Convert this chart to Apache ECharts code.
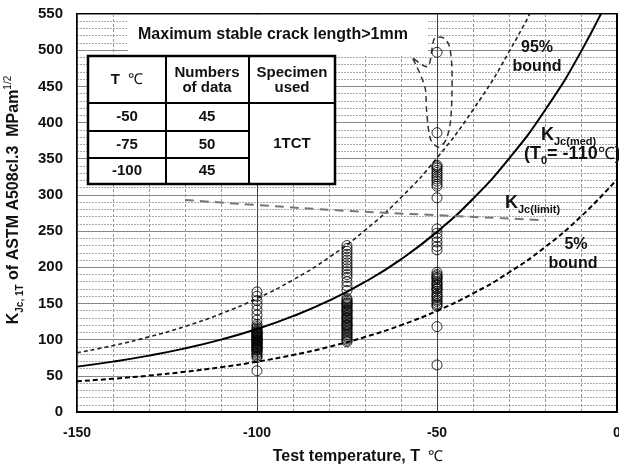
<!DOCTYPE html>
<html>
<head>
<meta charset="utf-8">
<script src="https://cdn.jsdelivr.net/npm/echarts@6/dist/echarts.min.js"></script>
<style>
html, body {margin: 0; padding: 0; background: #fff;}
#main {width: 619px; height: 469px;}
</style>
</head>
<body>
<div id="main"></div>
<script>
// temperatures (degC) where the curves were read
var curveTemps = [-150, -140, -130, -120, -110, -100, -90, -80, -70, -60, -50, -40, -30, -20, -10, 0];
// K_Jc(med), T0 = -110 degC
var medValues = [62.7, 69.6, 77.9, 87.9, 100, 114.6, 132.4, 153.8, 179.7, 211, 248.9, 294.7, 350.1, 417, 498, 596];
// 95% and 5% bounds
var upperValues = [81.8, 91.8, 103.8, 118.2, 135.8, 157, 182.6, 213.6, 251.1, 296.4, 351.2, 417.5, 497.6, 594.6, 711.8, 853.5];
var lowerValues = [42.4, 46, 50.3, 55.5, 61.9, 69.5, 78.8, 90, 103.6, 120, 139.8, 163.8, 192.8, 227.8, 270.2, 321.5];
// K_Jc(limit)
var limitTemps = [-120, -100, -75, -50, -20];
var limitValues = [293, 286, 278, 272, 265];

// measured K_Jc,1T (MPa m^1/2)
var kjcAt100 = [166, 160, 154, 148, 141, 134, 127, 121, 118, 116, 114, 112, 111, 110, 109, 108, 107, 106, 105, 104,
    103, 102, 101, 100, 99, 98, 97, 96, 95, 94, 93, 92, 91, 90, 89, 88, 87, 86, 85, 83, 81, 79, 77, 75, 57];
var kjcAt75 = [230, 226, 222, 218, 214, 210, 206, 202, 198, 194, 190, 186, 180, 174, 168,
    157, 155, 153, 151, 149, 147, 145, 143, 141, 139, 137, 135, 133, 131, 129, 127, 125, 123, 121, 119,
    117, 115, 113, 111, 109, 107, 105, 103, 101, 99, 97, 150, 140, 130, 120];
var kjcAt50 = [497, 386, 341, 339, 337, 334, 331, 328, 325, 322, 319, 315, 312, 296, 253, 247, 241, 235, 229, 224,
    193, 190, 188, 185, 183, 180, 178, 175, 172, 170, 167, 164, 161, 158, 155, 153, 150, 148, 146, 160, 176, 186, 118, 65, 170];

// dashed callout round the large stable-crack specimens
var loopTemps = [-60.6, -52.8, -50.6, -48.8, -46.6, -45.8, -46.2, -47.5, -49.6, -51.8, -52.9, -53.3, -57.5];
var loopValues = [507, 477, 517, 518, 506, 462, 404, 376, 366, 377, 417, 448, 496];

// table in the upper left
var tableTemps = ['-50', '-75', '-100'];
var tableCounts = ['45', '50', '45'];

var FONT = 'Liberation Sans, Arial, sans-serif';

function pairs(xs, ys) {
    var out = [];
    for (var i = 0; i < ys.length; i++) out.push([xs[i], ys[i]]);
    return out;
}
function at(t, ys) {
    return ys.map(function (v) { return [t, v]; });
}
function txt(x, y, text, size, align, rich) {
    return {
        type: 'text', z: 110,
        style: {
            x: x, y: y, text: text, fill: '#111', align: align || 'center', verticalAlign: 'middle',
            fontFamily: FONT, fontWeight: 'bold', fontSize: size || 15, rich: rich
        }
    };
}
function hline(x1, x2, y) {
    return {type: 'line', z: 105, shape: {x1: x1, y1: y, x2: x2, y2: y}, style: {stroke: '#000', lineWidth: 2}};
}
function vline(x, y1, y2) {
    return {type: 'line', z: 105, shape: {x1: x, y1: y1, x2: x, y2: y2}, style: {stroke: '#000', lineWidth: 2}};
}

var subRich = {
    k: {fontFamily: FONT, fontWeight: 'bold', fontSize: 18, lineHeight: 24, color: '#111'},
    s: {fontFamily: FONT, fontWeight: 'bold', fontSize: 11, lineHeight: 11, verticalAlign: 'bottom', color: '#111'},
    n: {fontFamily: FONT, fontWeight: 'normal', fontSize: 17, lineHeight: 24, color: '#111'}
};

// table geometry
var colX = [88, 166, 249, 335];
var rowY = [56, 103, 131, 158, 184];
var tableEls = [
    {type: 'rect', z: 100, shape: {x: 128, y: 15, width: 300, height: 41}, style: {fill: '#fff'}},
    {type: 'rect', z: 100, shape: {x: colX[0], y: rowY[0], width: colX[3] - colX[0], height: rowY[4] - rowY[0]},
        style: {fill: '#fff', stroke: '#000', lineWidth: 2.5}},
    vline(colX[1], rowY[0], rowY[4]),
    vline(colX[2], rowY[0], rowY[4]),
    hline(colX[0], colX[3], rowY[1]),
    hline(colX[0], colX[2], rowY[2]),
    hline(colX[0], colX[2], rowY[3]),
    txt(138, 35, 'Maximum stable crack length>1mm', 16, 'left'),
    txt(127, 80, '{b|T  }{n|℃}', 15, 'center', {
        b: {fontFamily: FONT, fontWeight: 'bold', fontSize: 15},
        n: {fontFamily: FONT, fontWeight: 'normal', fontSize: 15}
    }),
    txt(207, 80, 'Numbers\nof data', 15),
    txt(292, 80, 'Specimen\nused', 15),
    txt(292, 144, '1TCT', 15)
];
for (var r = 0; r < tableTemps.length; r++) {
    var cy = (rowY[r + 1] + rowY[r + 2]) / 2;
    tableEls.push(txt(127, cy, tableTemps[r], 15));
    tableEls.push(txt(207, cy, tableCounts[r], 15));
}

var labelEls = [
    txt(537, 48, '95%', 16),
    txt(537, 67, 'bound', 16),
    txt(541, 135, '{k|K}{s|Jc(med)}', 16, 'left', subRich),
    txt(524, 154, '{k|(T}{s|0}{k|= -110}{n|℃}{k|)}', 16, 'left', subRich),
    txt(505, 203, '{k|K}{s|Jc(limit)}', 16, 'left', subRich),
    txt(576, 245, '5%', 16),
    txt(573, 264, 'bound', 16)
];

var chart = echarts.init(document.getElementById('main'));
chart.setOption({
    animation: false,
    backgroundColor: '#fff',
    grid: {left: 77, right: 2, top: 14, bottom: 57, containLabel: false, outerBoundsMode: 'none',
        show: true, borderColor: '#000', borderWidth: 2, backgroundColor: '#fff'},
    xAxis: {
        type: 'value', min: -150, max: 0, interval: 50,
        name: '{b|Test temperature, T}{n|  ℃}', nameLocation: 'middle', nameGap: 37,
        nameTextStyle: {
            padding: [0, 0, 0, 22],
            rich: {
                b: {fontFamily: FONT, fontWeight: 'bold', fontSize: 16, color: '#111'},
                n: {fontFamily: FONT, fontWeight: 'normal', fontSize: 15, color: '#111'}
            }
        },
        axisLine: {show: true, lineStyle: {color: '#000', width: 2}},
        axisTick: {show: false},
        axisLabel: {fontFamily: FONT, fontWeight: 'bold', fontSize: 14, color: '#111', margin: 14},
        splitLine: {show: true, lineStyle: {color: '#444', width: 1}},
        minorTick: {show: false, splitNumber: 5},
        minorSplitLine: {show: true, lineStyle: {color: '#999', width: 1, type: [3, 2]}}
    },
    yAxis: {
        type: 'value', min: 0, max: 550, interval: 50,
        name: '{k|K}{s|Jc, 1T}{k| of ASTM A508cl.3  MPam}{p|1/2}', nameLocation: 'middle', nameRotate: 90, nameGap: 52,
        nameTextStyle: {
            padding: [0, 0, 0, 26],
            rich: {
                k: {fontFamily: FONT, fontWeight: 'bold', fontSize: 16, lineHeight: 22, color: '#111'},
                s: {fontFamily: FONT, fontWeight: 'bold', fontSize: 10, lineHeight: 10, verticalAlign: 'bottom', color: '#111'},
                p: {fontFamily: FONT, fontWeight: 'normal', fontSize: 10, lineHeight: 10, verticalAlign: 'top', color: '#111'}
            }
        },
        axisLine: {show: true, lineStyle: {color: '#000', width: 2}},
        axisTick: {show: false},
        axisLabel: {fontFamily: FONT, fontWeight: 'bold', fontSize: 15, color: '#111', margin: 14},
        splitLine: {show: true, lineStyle: {color: '#888', width: 1.2}},
        minorTick: {show: false, splitNumber: 5},
        minorSplitLine: {show: true, lineStyle: {color: '#aaa', width: 1, type: [2, 1]}}
    },
    graphic: tableEls.concat(labelEls),
    series: [
        {type: 'line', data: pairs(curveTemps, medValues), smooth: true, showSymbol: false,
            lineStyle: {color: '#000', width: 2}, z: 3},
        {type: 'line', data: pairs(curveTemps, upperValues), smooth: true, showSymbol: false,
            lineStyle: {color: '#222', width: 1.6, type: [4, 3]}, z: 3},
        {type: 'line', data: pairs(curveTemps, lowerValues), smooth: true, showSymbol: false,
            lineStyle: {color: '#000', width: 2, type: [5, 3]}, z: 3},
        {type: 'line', data: pairs(limitTemps, limitValues), smooth: true, showSymbol: false,
            lineStyle: {color: '#777', width: 2, type: [9, 6]}, z: 3},
        {type: 'line', data: pairs(loopTemps, loopValues), smooth: 0.3, showSymbol: false,
            lineStyle: {color: '#333', width: 1.5, type: [6, 4]}, z: 3},
        {type: 'scatter', data: at(-100, kjcAt100).concat(at(-75, kjcAt75), at(-50, kjcAt50)),
            symbol: 'circle', symbolSize: 10,
            itemStyle: {color: 'rgba(0,0,0,0)', borderColor: '#000', borderWidth: 1}, z: 4}
    ]
});
</script>
</body>
</html>
